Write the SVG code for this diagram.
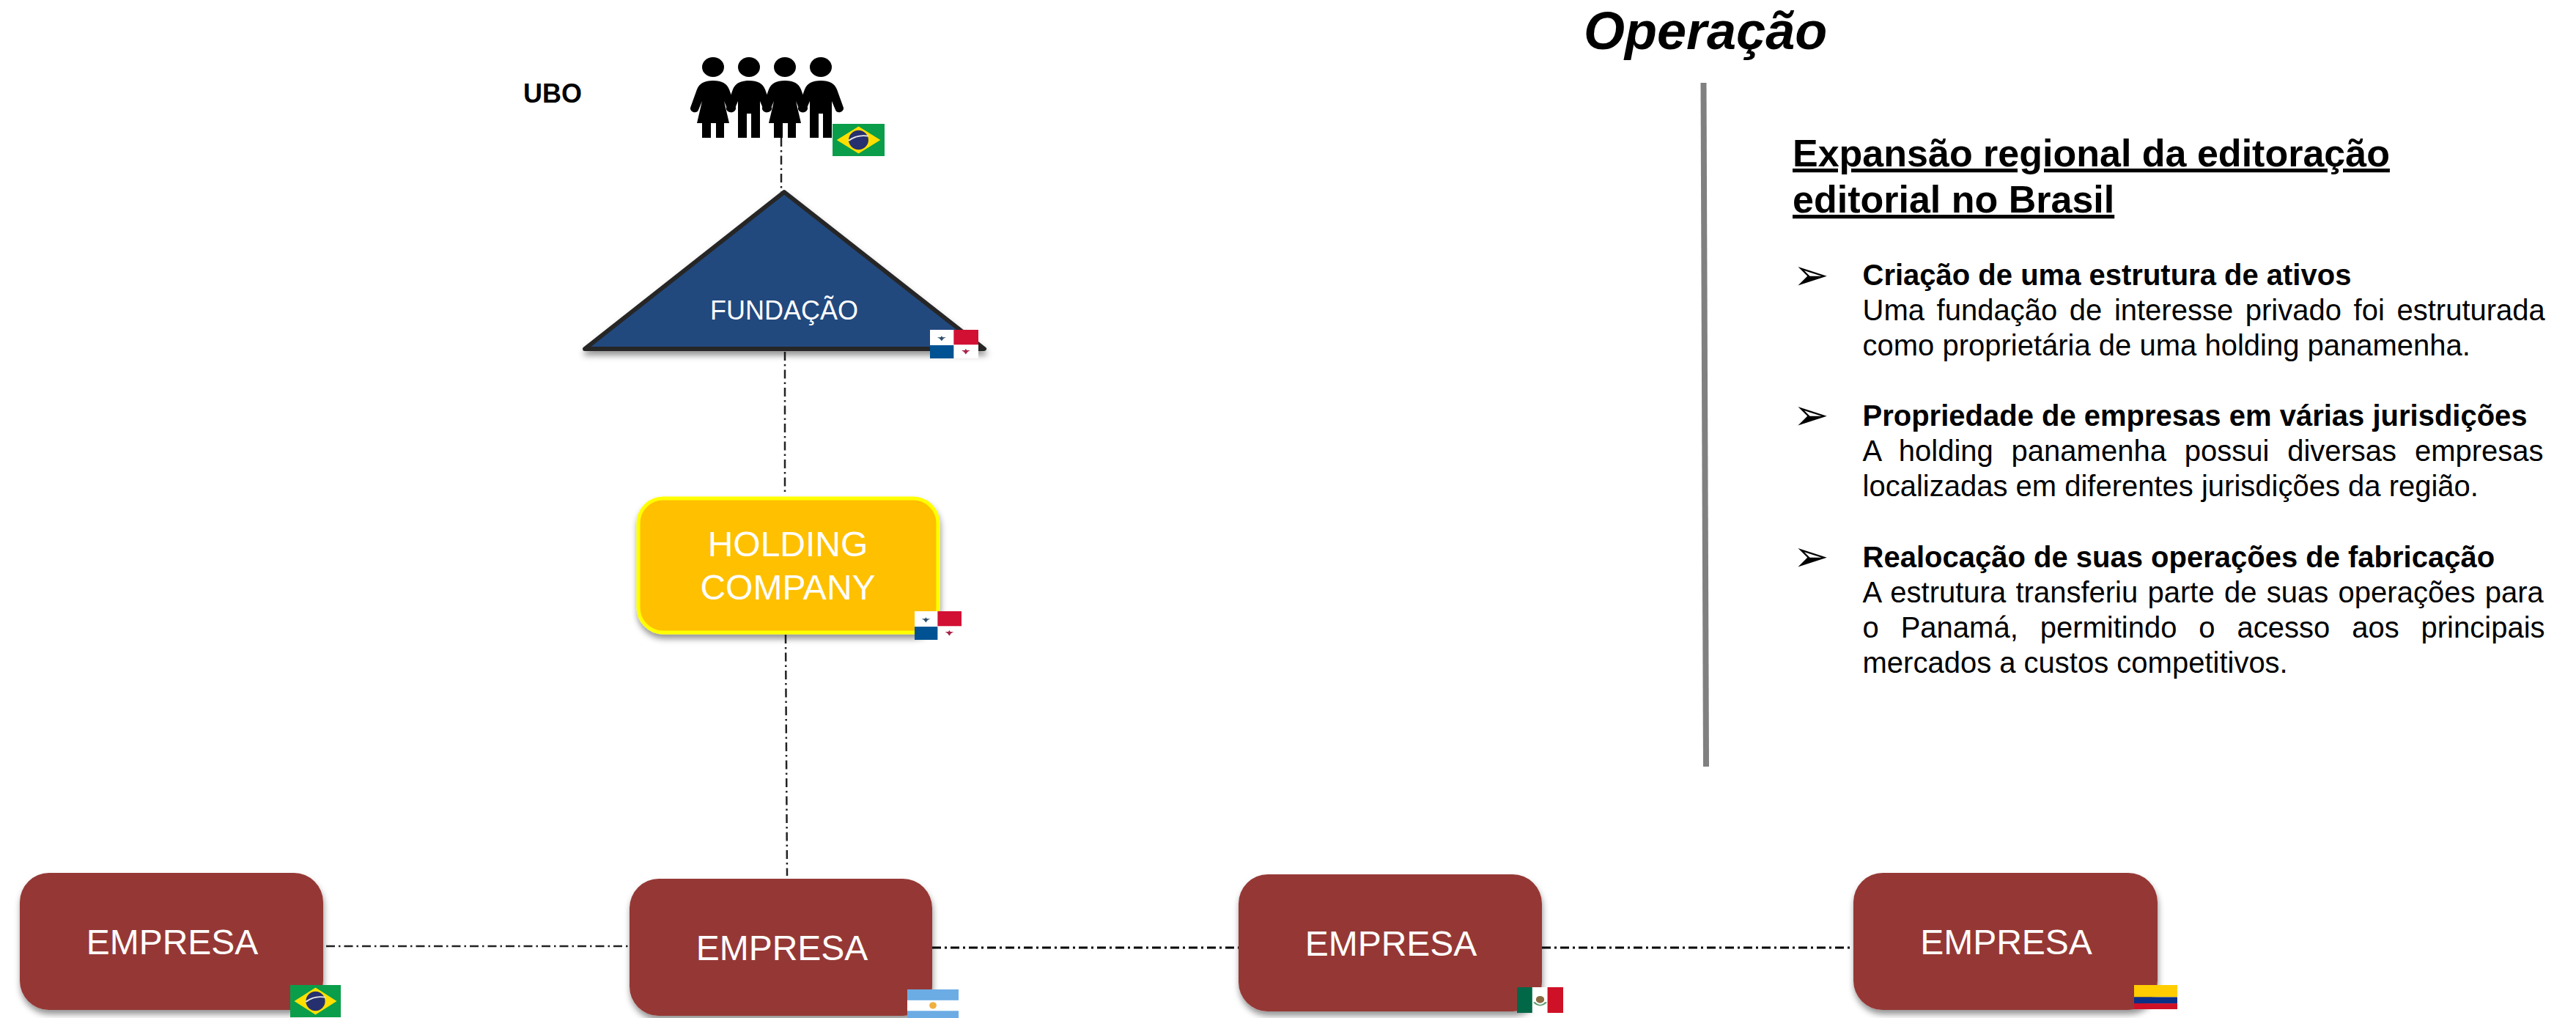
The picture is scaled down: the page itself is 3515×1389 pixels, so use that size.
<svg xmlns="http://www.w3.org/2000/svg" xmlns:xlink="http://www.w3.org/1999/xlink" width="3515" height="1389" viewBox="0 0 3515 1389">
<style>
text{font-family:"Liberation Sans",Arial,sans-serif}
.wt{fill:#fff;text-anchor:middle}
.emp{font-size:48px}
.bd{font-size:40px;fill:#000}
.b{font-weight:700}
.blt{font-family:"DejaVu Sans",sans-serif;font-size:58px;fill:#000}
.dash{fill:none;stroke:#222;stroke-width:2.5;stroke-dasharray:12 5 2.5 5}
.dashb{fill:none;stroke:#000;stroke-width:3;stroke-dasharray:12 5 3 5}
.box{fill:#953735}
</style>
<defs>
<filter id="sh" x="-10%" y="-10%" width="120%" height="125%"><feDropShadow dx="1" dy="6" stdDeviation="4" flood-color="#000" flood-opacity="0.42"/></filter>
<g id="br"><rect width="100" height="100" fill="#0a9e4a"/><path d="M8 50 50 8 92 50 50 92Z" fill="#fedf00"/><ellipse cx="50" cy="50" rx="19" ry="30" fill="#27306e"/><path d="M31 52Q48 32 69 38" fill="none" stroke="#e8e8e8" stroke-width="4"/></g>
<g id="pa"><rect width="100" height="100" fill="#fff"/><rect x="49" width="51" height="52" fill="#d21034"/><rect y="54" width="49" height="46" fill="#005293"/><path d="M24 21 26 26 33 26 28 31 24 39 20 31 15 26 22 26Z" fill="#2b4d6b"/><path d="M74 66 76 72 83 72 78 77 74 86 70 77 65 72 72 72Z" fill="#a8244a"/></g>
<g id="ar"><rect width="100" height="100" fill="#fff"/><rect width="100" height="38" fill="#6cace4"/><rect y="75" width="100" height="25" fill="#6cace4"/><ellipse cx="50" cy="56" rx="7" ry="12" fill="#f0b040"/></g>
<g id="mx"><rect width="100" height="100" fill="#fff"/><rect width="33" height="100" fill="#006847"/><rect x="66" width="34" height="100" fill="#ce1126"/><ellipse cx="50" cy="48" rx="9" ry="14" fill="#8a6a40"/><path d="M37 58Q50 82 63 58" fill="none" stroke="#5e9a70" stroke-width="5"/></g>
<g id="co"><rect width="100" height="50" fill="#ffcd00"/><rect y="50" width="100" height="26" fill="#0a2f87"/><rect y="76" width="100" height="24" fill="#ce1126"/></g>
<g id="woman"><ellipse cx="0" cy="91.500" rx="15" ry="13.500"/><path d="M0 110C12 110 19 114 22 122L31 147C32 153 22 156 20 150L15 138 22 168H15V188H4V168H-3V188H-15V168H-22L-15 138-20 150C-22 156-32 153-31 147L-22 122C-19 114-12 110 0 110Z"/></g>
<g id="man"><ellipse cx="0" cy="91.500" rx="15" ry="13.500"/><path d="M0 110C12 110 19 114 22 122L31 147C32 153 22 156 20 150L15 138V188H3V155H-3V188H-15V138L-20 150C-22 156-32 153-31 147L-22 122C-19 114-12 110 0 110Z"/></g>
</defs>
<rect width="3515" height="1389" fill="#fff"/>

<g id="connectors">
<path class="dash" d="M1066 188V262"/>
<path class="dash" d="M1071 480V673"/>
<path class="dash" d="M1072 866 1074 1195"/>
<path class="dash" d="M445 1291H859"/>
<path class="dashb" d="M1272 1293H1690"/>
<path class="dashb" d="M2104 1293H2529"/>
</g>

<g id="ubo">
<text x="714" y="140" font-size="36" font-weight="700" fill="#000">UBO</text>
<use href="#woman" x="973"/><use href="#man" x="1022"/><use href="#woman" x="1071"/><use href="#man" x="1120"/>
<use href="#br" transform="translate(1136 169) scale(.71 .44)"/>
</g>

<g id="fundacao">
<path d="M1070 262 1343 476H798Z" fill="#204a7e" stroke="#262626" stroke-width="6" stroke-linejoin="round" filter="url(#sh)"/>
<text class="wt" x="1070" y="436" font-size="36">FUNDAÇÃO</text>
<use href="#pa" transform="translate(1269 450) scale(.66 .39)"/>
</g>

<g id="holding">
<rect x="871" y="680" width="409" height="183" rx="34" fill="#ffc000" stroke="#ffff00" stroke-width="5" filter="url(#sh)"/>
<text class="wt" x="1075" y="759" font-size="48">HOLDING</text>
<text class="wt" x="1075" y="818" font-size="48">COMPANY</text>
<use href="#pa" transform="translate(1248 834) scale(.64 .39)"/>
</g>

<g id="empresa-br">
<rect class="box" x="27" y="1191" width="414" height="187" rx="40" filter="url(#sh)"/>
<text class="wt emp" x="235" y="1302">EMPRESA</text>
<use href="#br" transform="translate(396 1344) scale(.69 .44)"/>
</g>
<g id="empresa-ar">
<rect class="box" x="859" y="1199" width="413" height="187" rx="40" filter="url(#sh)"/>
<text class="wt emp" x="1067" y="1310">EMPRESA</text>
<use href="#ar" transform="translate(1238 1350) scale(.7 .39)"/>
</g>
<g id="empresa-mx">
<rect class="box" x="1690" y="1193" width="414" height="187" rx="40" filter="url(#sh)"/>
<text class="wt emp" x="1898" y="1304">EMPRESA</text>
<use href="#mx" transform="translate(2070 1347) scale(.63 .35)"/>
</g>
<g id="empresa-co">
<rect class="box" x="2529" y="1191" width="415" height="187" rx="40" filter="url(#sh)"/>
<text class="wt emp" x="2737.500" y="1302">EMPRESA</text>
<use href="#co" transform="translate(2912 1344) scale(.59 .33)"/>
</g>

<g id="painel">
<text x="2161" y="67" font-size="72" font-weight="700" font-style="italic" fill="#000">Operação</text>
<path d="M2324.500 113 2328 1046" stroke="#808080" stroke-width="8" fill="none"/>
<text x="2446" y="227" font-size="52" font-weight="700" fill="#000" text-decoration="underline">Expansão regional da editoração</text>
<text x="2446" y="290" font-size="52" font-weight="700" fill="#000" text-decoration="underline">editorial no Brasil</text>

<text class="blt" x="2447" y="395">➢</text>
<text class="bd b" x="2541.500" y="389">Criação de uma estrutura de ativos</text>
<text class="bd" x="2541.500" y="437" word-spacing="5.500">Uma fundação de interesse privado foi estruturada</text>
<text class="bd" x="2541.500" y="485">como proprietária de uma holding panamenha.</text>

<text class="blt" x="2447" y="586">➢</text>
<text class="bd b" x="2541.500" y="581">Propriedade de empresas em várias jurisdições</text>
<text class="bd" x="2541.500" y="629" word-spacing="13.700">A holding panamenha possui diversas empresas</text>
<text class="bd" x="2541.500" y="677">localizadas em diferentes jurisdições da região.</text>

<text class="blt" x="2447" y="779">➢</text>
<text class="bd b" x="2541.500" y="774">Realocação de suas operações de fabricação</text>
<text class="bd" x="2541.500" y="822" word-spacing="2.200">A estrutura transferiu parte de suas operações para</text>
<text class="bd" x="2541.500" y="870" word-spacing="18.800">o Panamá, permitindo o acesso aos principais</text>
<text class="bd" x="2541.500" y="918">mercados a custos competitivos.</text>
</g>
</svg>
